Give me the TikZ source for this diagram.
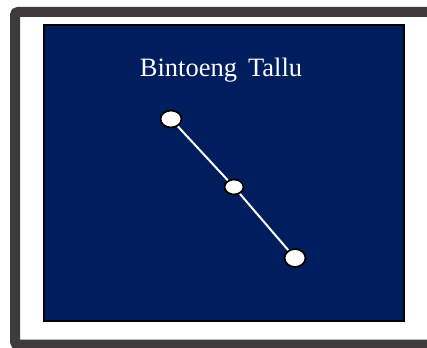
\documentclass[tikz,border=0pt]{standalone}
\usepackage{fontspec}
\setmainfont{Liberation Serif}
\usetikzlibrary{shapes.geometric}
\definecolor{navy}{HTML}{001E5E}
\definecolor{framegray}{HTML}{3E3C3A}
\tikzset{
  star/.style={ellipse, draw=black, fill=white, line width=1.8pt, inner sep=0pt, minimum width=#1},
  starline/.style={draw=white, line width=2pt},
}
\begin{document}
\begin{tikzpicture}[x=1pt,y=-1pt]
\useasboundingbox (0,0) rectangle (427,347);
\fill[white] (0,0) rectangle (427,347);
\begin{scope}
\clip (0,0) rectangle (427,347);
\draw[framegray, line width=10pt, rounded corners=3pt] (15,12) rectangle (437,344.5);
\end{scope}
\draw[fill=navy, draw=black, line width=2pt] (44,25) rectangle (404,321);
\node[text=white, font=\fontsize{26.5}{30}\selectfont, anchor=base] (title) at (221,77) {Bintoeng\, Tallu};
\node[star=21pt, minimum height=17pt] (s1) at (171,119) {};
\node[star=19pt, minimum height=15pt] (s2) at (234,187) {};
\node[star=21pt, minimum height=18pt] (s3) at (295,258) {};
\draw[starline] (s1) -- (s2);
\draw[starline] (s2) -- (s3);
\end{tikzpicture}
\end{document}
